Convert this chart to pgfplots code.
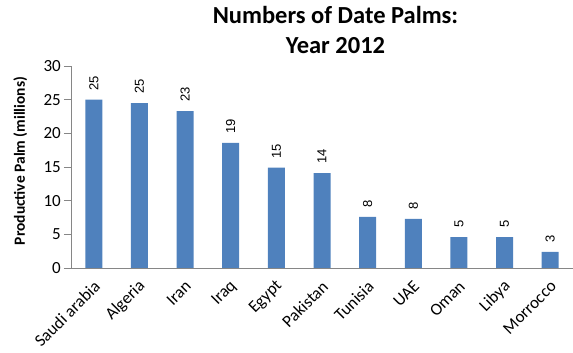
\documentclass[border=0pt]{standalone}
\usepackage{pgfplots}
\pgfplotsset{compat=1.18}
\usepackage{fontspec}
\setmainfont{Carlito}
\newfontfamily\lblfont{Liberation Sans}
\definecolor{barblue}{RGB}{79,129,189}
\definecolor{axgray}{RGB}{134,134,134}
\begin{document}
\begin{tikzpicture}
\begin{axis}[
  name=ax,
  scale only axis,
  width=502pt, height=202pt,
  xmin=-0.5, xmax=10.5,
  ymin=0, ymax=30,
  ytick={0,5,...,30},
  xtick={0,...,10},
  xticklabels={Saudi arabia,Algeria,Iran,Iraq,Egypt,Pakistan,Tunisia,UAE,Oman,Libya,Morrocco},
  x tick label style={xshift=4pt, yshift=-8pt, rotate=45, anchor=east, font=\fontsize{17}{18}\selectfont, inner sep=1pt},
  y tick label style={xshift=-2pt, font=\fontsize{17}{18}\selectfont, inner sep=1pt},
  /pgf/number format/assume math mode=true,
  axis lines*=left,
  axis line style={axgray, line width=0.8pt},
  major tick length=7pt,
  ytick style={axgray, line width=0.8pt},
  xtick style={draw=none},
  tick align=outside,
  ylabel={Productive Palm (millions)},
  ylabel style={font=\fontsize{15.5}{16}\selectfont\bfseries, at={(axis description cs:-0.101,0.53)}, anchor=center},
  title={Numbers of Date Palms:\\ Year 2012},
  title style={font=\fontsize{24.5}{30}\selectfont\bfseries, align=center, at={(axis description cs:0.527,1)}, anchor=south, yshift=3pt},
  ybar, bar width=17pt,
  nodes near coords,
  point meta=explicit symbolic,
  every node near coord/.append style={yshift=7pt, rotate=90, anchor=west, font=\lblfont\fontsize{13}{14}\selectfont, black, inner sep=2pt},
  clip=false,
]
\addplot[fill=barblue, draw=none] coordinates {
(0,25.0)[25] (1,24.5)[25] (2,23.3)[23] (3,18.6)[19] (4,14.9)[15] (5,14.1)[14]
(6,7.6)[8] (7,7.3)[8] (8,4.6)[5] (9,4.6)[5] (10,2.4)[3]};
\end{axis}
\pgfresetboundingbox
\path[use as bounding box] ([shift={(-71pt,268pt)}]ax.south west) rectangle ([shift={(502pt,-85pt)}]ax.south west);
\end{tikzpicture}
\end{document}
